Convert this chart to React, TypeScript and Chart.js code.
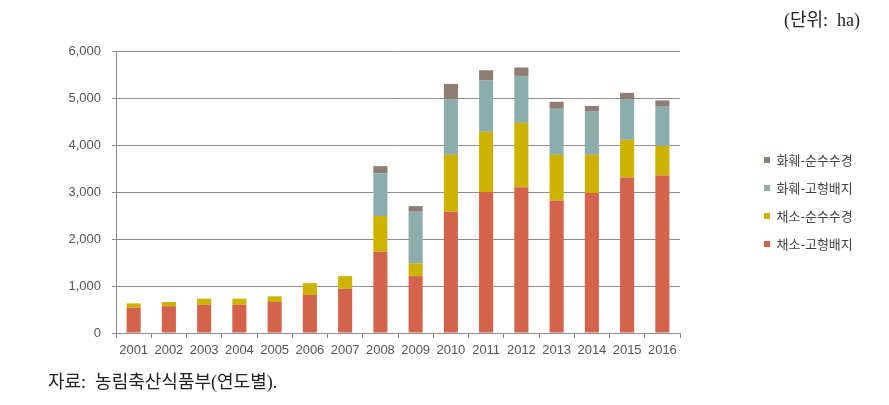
import React, { useEffect, useRef } from 'react';
import { Chart, registerables } from 'chart.js';

Chart.register(...registerables);

const years = ['2001', '2002', '2003', '2004', '2005', '2006', '2007', '2008', '2009', '2010', '2011', '2012', '2013', '2014', '2015', '2016'];
// 채소-고형배지
const vegSolid = [540, 570, 600, 600, 660, 810, 940, 1730, 1210, 2580, 3000, 3100, 2820, 2980, 3310, 3350];
// 채소-순수수경
const vegHydro = [90, 90, 130, 130, 120, 250, 270, 760, 270, 1210, 1280, 1370, 970, 810, 800, 630];
// 화훼-고형배지
const flowerSolid = [0, 0, 0, 0, 0, 0, 0, 910, 1100, 1190, 1100, 1000, 980, 920, 870, 850];
// 화훼-순수수경
const flowerHydro = [0, 0, 0, 0, 0, 0, 0, 150, 120, 320, 210, 180, 150, 120, 130, 120];

const seriesLabels = ['채소-고형배지', '채소-순수수경', '화훼-고형배지', '화훼-순수수경'];
const seriesColors = ['#D3634A', '#CDB300', '#8DADAD', '#8F7C72'];
const yTicks = [0, 1000, 2000, 3000, 4000, 5000, 6000];

const unitText = '(단위:  ha)';
const sourceText = '자료:  농림축산식품부(연도별).';

const LEGEND_X = 749;
const LEGEND_Y = 138.5;

const tickFont = { family: '"Liberation Sans", Arial, sans-serif', size: 13 };

export default function App() {
  const ref = useRef<HTMLCanvasElement>(null);

  useEffect(() => {
    const legendPlacer = {
      id: 'legendPlacer',
      afterLayout(chart: any) {
        const lg = chart.legend;
        if (!lg) return;
        lg.left = LEGEND_X;
        lg.top = LEGEND_Y;
        lg.right = LEGEND_X + 140;
        lg.bottom = LEGEND_Y + 160;
        lg.width = 140;
        lg.height = 160;
      },
    };

    const datasets = [vegSolid, vegHydro, flowerSolid, flowerHydro].map((d, i) => ({
      label: seriesLabels[i],
      data: d,
      backgroundColor: seriesColors[i],
      borderWidth: 0,
      barPercentage: 0.4,
      categoryPercentage: 1,
    }));

    const chart = new Chart(ref.current!, {
      type: 'bar',
      data: { labels: years, datasets },
      plugins: [legendPlacer],
      options: {
        responsive: false,
        animation: false,
        layout: { padding: { top: 51, right: 209, bottom: 0, left: 0 } },
        plugins: {
          tooltip: { enabled: false },
          title: { display: false },
          legend: {
            display: true,
            position: 'chartArea' as any,
            align: 'start',
            reverse: true,
            labels: {
              boxWidth: 6,
              boxHeight: 6,
              padding: 15,
              color: '#444',
              font: { family: '"Noto Sans CJK KR", sans-serif', size: 13 },
            },
          },
        },
        scales: {
          x: {
            stacked: true,
            afterFit: (scale: any) => { scale.height = 72; },
            grid: {
              display: true,
              drawOnChartArea: false,
              drawTicks: true,
              tickLength: 5,
              offset: true,
              color: '#8c8c8c',
            },
            border: { display: true, color: '#8c8c8c', width: 1 },
            ticks: { color: '#555', font: tickFont, padding: 5, maxRotation: 0, autoSkip: false },
          },
          y: {
            stacked: true,
            min: 0,
            max: 6000,
            afterFit: (scale: any) => { scale.width = 116; },
            afterBuildTicks: (scale: any) => { scale.ticks = yTicks.map((v) => ({ value: v })); },
            grid: { color: '#8c8c8c', drawTicks: true, tickLength: 4 },
            border: { display: true, color: '#8c8c8c', width: 1 },
            ticks: {
              color: '#555',
              font: tickFont,
              padding: 11,
              callback: (v: any) => Number(v).toLocaleString('en-US'),
            },
          },
        },
      },
    });
    return () => chart.destroy();
  }, []);

  return (
    <div style={{ position: 'fixed', left: 0, top: 0, width: 889, height: 405, background: '#fff', overflow: 'hidden' }}>
      <canvas ref={ref} width={889} height={405} style={{ position: 'absolute', left: 0, top: 0, width: 889, height: 405 }} />
      <div style={{ position: 'absolute', left: 784, top: 5, whiteSpace: 'pre', color: '#222', font: '18px "Liberation Serif", "Noto Sans CJK KR", serif' }}>{unitText}</div>
      <div style={{ position: 'absolute', left: 48, top: 367, whiteSpace: 'pre', color: '#222', font: '18px "Liberation Serif", "Noto Sans CJK KR", serif' }}>{sourceText}</div>
    </div>
  );
}
